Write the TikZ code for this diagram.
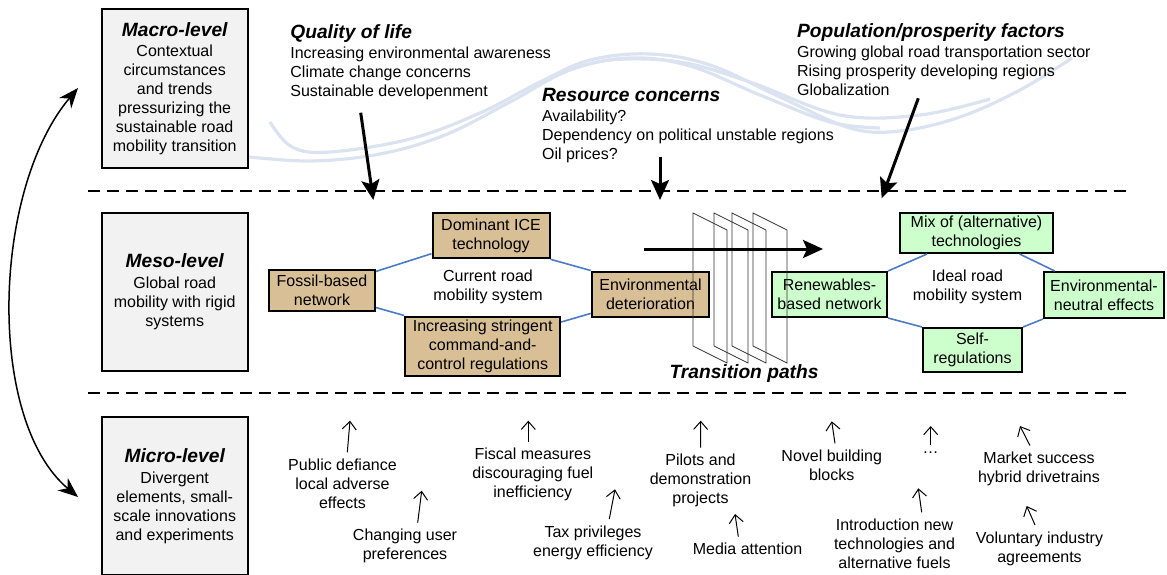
\documentclass[tikz,border=0pt]{standalone}
\usepackage{fontspec}
\setmainfont{Liberation Sans}
\usetikzlibrary{arrows.meta}
\definecolor{levelgray}{RGB}{242,242,242}
\definecolor{oldtan}{RGB}{217,191,150}
\definecolor{newgreen}{RGB}{204,255,204}
\definecolor{linkblue}{RGB}{74,122,200}
\definecolor{waveblue}{RGB}{219,227,241}
\newcommand{\txtfont}{\fontsize{8}{9.5}\selectfont}
\newcommand{\hdfont}{\fontsize{9.6}{11}\selectfont\bfseries\itshape}
\tikzset{%
  levelbox/.style = {rectangle,draw,line width=1pt,fill=levelgray,
        minimum width=73pt,minimum height=79.2pt,align=center,inner sep=1pt},
  oldbox/.style = {rectangle,draw,line width=1pt,fill=oldtan,
        align=center,inner sep=1pt},
  newbox/.style = {rectangle,draw,line width=1pt,fill=newgreen,
        align=center,inner sep=1pt},
  link/.style = {draw=linkblue,line width=0.8pt},
  push/.style = {-{Stealth[length=10pt,width=9pt,inset=2pt]},line width=1.5pt},
  levelsep/.style = {dash pattern=on 6pt off 3.5pt,line width=1.2pt},
  wave/.style = {draw=waveblue,line width=1.6pt},
  pane/.style = {draw=black!80,line width=0.4pt},
  emerge/.style = {-{Straight Barb[length=4pt,width=7pt]},line width=0.5pt},
  niche/.style = {align=center,inner sep=3pt,anchor=north},
  factor/.style = {align=left,inner sep=0pt,anchor=north west}
}
\begin{document}
\begin{tikzpicture}[x=0.5pt,y=-0.5pt,font=\txtfont]
\useasboundingbox (0,0) rectangle (1167,574);
\clip (0,0) rectangle (1167,574);
% landscape waves
\draw[wave] plot[smooth,tension=0.6] coordinates {(270,122) (292,147) (330,152)
  (410,139) (480,113) (540,82) (590,60) (650,54) (710,65) (780,97) (850,128)
  (900,131) (960,117) (1020,90) (1072,58)};
\draw[wave] plot[smooth,tension=0.6] coordinates {(240,156) (310,161) (380,154)
  (445,135) (510,102) (570,70) (630,58) (690,66) (760,95) (830,122) (880,128)};
\draw[wave] plot[smooth,tension=0.6] coordinates {(560,73) (610,60) (680,62)
  (750,82) (840,115) (920,115) (990,99)};
% levels
\node[levelbox] (macro) at (174.7,88.5) {{\hdfont Macro-level}\\[0.8pt]Contextual\\
  circumstances\\and trends\\pressurizing the\\sustainable road\\mobility transition};
\node[levelbox] (meso) at (174.7,291.9) {{\hdfont Meso-level}\\[0.8pt]Global road\\
  mobility with rigid\\systems};
\node[levelbox] (micro) at (174.7,495.9) {{\hdfont Micro-level}\\[0.8pt]Divergent\\
  elements, small-\\scale innovations\\and experiments};
\draw[levelsep] (88,191) -- (1127,191);
\draw[levelsep] (88,393) -- (1127,393);
\coordinate (macroarr) at (78,88);
\coordinate (microarr) at (78,497);
\draw[{Stealth[length=10pt,width=8pt]}-{Stealth[length=10pt,width=8pt]},line width=0.75pt]
  (macroarr) .. controls (-8,190) and (-14,420) .. (microarr);
% macro trends
\node[factor] (qol) at (290,23.8) {{\hdfont Quality of life}\\[0.5pt]
  Increasing environmental awareness\\Climate change concerns\\Sustainable developenment};
\node[factor] (res) at (541.7,88.1) {{\hdfont Resource concerns}\\[0.5pt]
  Availability?\\Dependency on political unstable regions\\Oil prices?};
\node[factor] (pop) at (796.7,23.1) {{\hdfont Population/prosperity factors}\\[0.5pt]
  Growing global road transportation sector\\Rising prosperity developing regions\\Globalization};
\coordinate (qolfrom) at (360.7,112.7);
\coordinate (qolto) at (373.3,200);
\coordinate (resfrom) at (660,156.7);
\coordinate (resto) at (660,200);
\coordinate (popfrom) at (918.3,98.3);
\coordinate (popto) at (881.7,198.3);
\draw[push] (qolfrom) -- (qolto);
\draw[push] (resfrom) -- (resto);
\draw[push] (popfrom) -- (popto);
% current system
\node[oldbox,minimum width=53pt,minimum height=20.5pt] (fossil) at (322,290) {Fossil-based\\network};
\node[oldbox,minimum width=58.5pt,minimum height=22.8pt] (ice) at (491,235.5) {Dominant ICE\\technology};
\node[oldbox,minimum width=77.5pt,minimum height=29.5pt] (cac) at (482.7,346) {Increasing stringent\\command-and-\\control regulations};
\node[oldbox,minimum width=58.8pt,minimum height=22.5pt] (envdet) at (650.5,294) {Environmental\\deterioration};
\node[align=center] (current) at (488,287) {Current road\\mobility system};
\draw[link] (fossil.19) -- (ice.-163);
\draw[link] (ice.south east) -- (envdet.north west);
\draw[link] (fossil.-18) -- (cac.north west);
\draw[link] (cac.17) -- (envdet.-162);
% ideal system
\node[newbox,minimum width=76.5pt,minimum height=20pt] (mix) at (976.5,233) {Mix of (alternative)\\technologies};
\node[newbox,minimum width=57.5pt,minimum height=22.5pt] (renew) at (829.5,294.5) {Renewables-\\based network};
\node[newbox,minimum width=60pt,minimum height=23pt] (envneu) at (1104,295) {Environmental-\\neutral effects};
\node[newbox,minimum width=49.5pt,minimum height=22pt] (selfreg) at (972.5,350) {Self-\\regulations};
\node[align=center] (ideal) at (967.5,287) {Ideal road\\mobility system};
\draw[link] (renew.north east) -- (mix.-157);
\draw[link] (mix.-26) -- (envneu.154);
\draw[link] (renew.south east) -- (selfreg.north west);
\draw[link] (selfreg.north east) -- (envneu.south west);
% transition paths
\foreach \px in {693,714,732,753}
  \draw[pane] (\px,213) -- ++(34,17) -- ++(0,133) -- ++(-34,-17) -- cycle;
\node[font=\hdfont] (paths) at (744,374) {Transition paths};
\coordinate (pathfrom) at (644,249);
\coordinate (pathto) at (823,249);
\draw[push] (pathfrom) -- (pathto);
% niches
\node[niche] (defiance) at (342.5,452.3) {Public defiance\\local adverse\\effects};
\node[niche] (userpref) at (405,522.6) {Changing user\\preferences};
\node[niche] (fiscal) at (532.8,441.6) {Fiscal measures\\discouraging fuel\\inefficiency};
\node[niche] (taxpriv) at (593,519) {Tax privileges\\energy efficiency};
\node[niche] (pilots) at (700.5,447.6) {Pilots and\\demonstration\\projects};
\node[niche] (media) at (747.5,536.6) {Media attention};
\node[niche] (novel) at (831.7,443.3) {Novel building\\blocks};
\node[niche] (more) at (930.7,445) {\ldots};
\node[niche] (newtech) at (894.5,512.3) {Introduction new\\technologies and\\alternative fuels};
\node[niche] (market) at (1039,445.6) {Market success\\hybrid drivetrains};
\node[niche] (volunt) at (1039.5,525) {Voluntary industry\\agreements};
\coordinate (defianceup) at (350,420.7);
\coordinate (userprefup) at (421.7,490.7);
\coordinate (fiscalup) at (528.3,420.7);
\coordinate (taxprivup) at (615,489.3);
\coordinate (pilotsup) at (700.7,420.7);
\coordinate (mediaup) at (735,514);
\coordinate (novelup) at (831.7,421.3);
\coordinate (moreup) at (930.7,426);
\coordinate (newtechup) at (918.3,488.3);
\coordinate (marketup) at (1020,426);
\coordinate (voluntup) at (1026.7,506);
\draw[emerge] ([xshift=2.4pt]defiance.north) -- (defianceup);
\draw[emerge] ([xshift=6.35pt]userpref.north) -- (userprefup);
\draw[emerge] ([xshift=-2.25pt]fiscal.north) -- (fiscalup);
\draw[emerge] ([xshift=8.15pt]taxpriv.north) -- (taxprivup);
\draw[emerge] (pilots.north) -- (pilotsup);
\draw[emerge] ([xshift=-4.6pt]media.north) -- (mediaup);
\draw[emerge] ([xshift=1.65pt]novel.north) -- (novelup);
\draw[emerge] (more.north) -- (moreup);
\draw[emerge] ([xshift=13.6pt]newtech.north) -- (newtechup);
\draw[emerge] ([xshift=-4.5pt]market.north) -- (marketup);
\draw[emerge] ([xshift=-2.25pt]volunt.north) -- (voluntup);
\end{tikzpicture}
\end{document}
